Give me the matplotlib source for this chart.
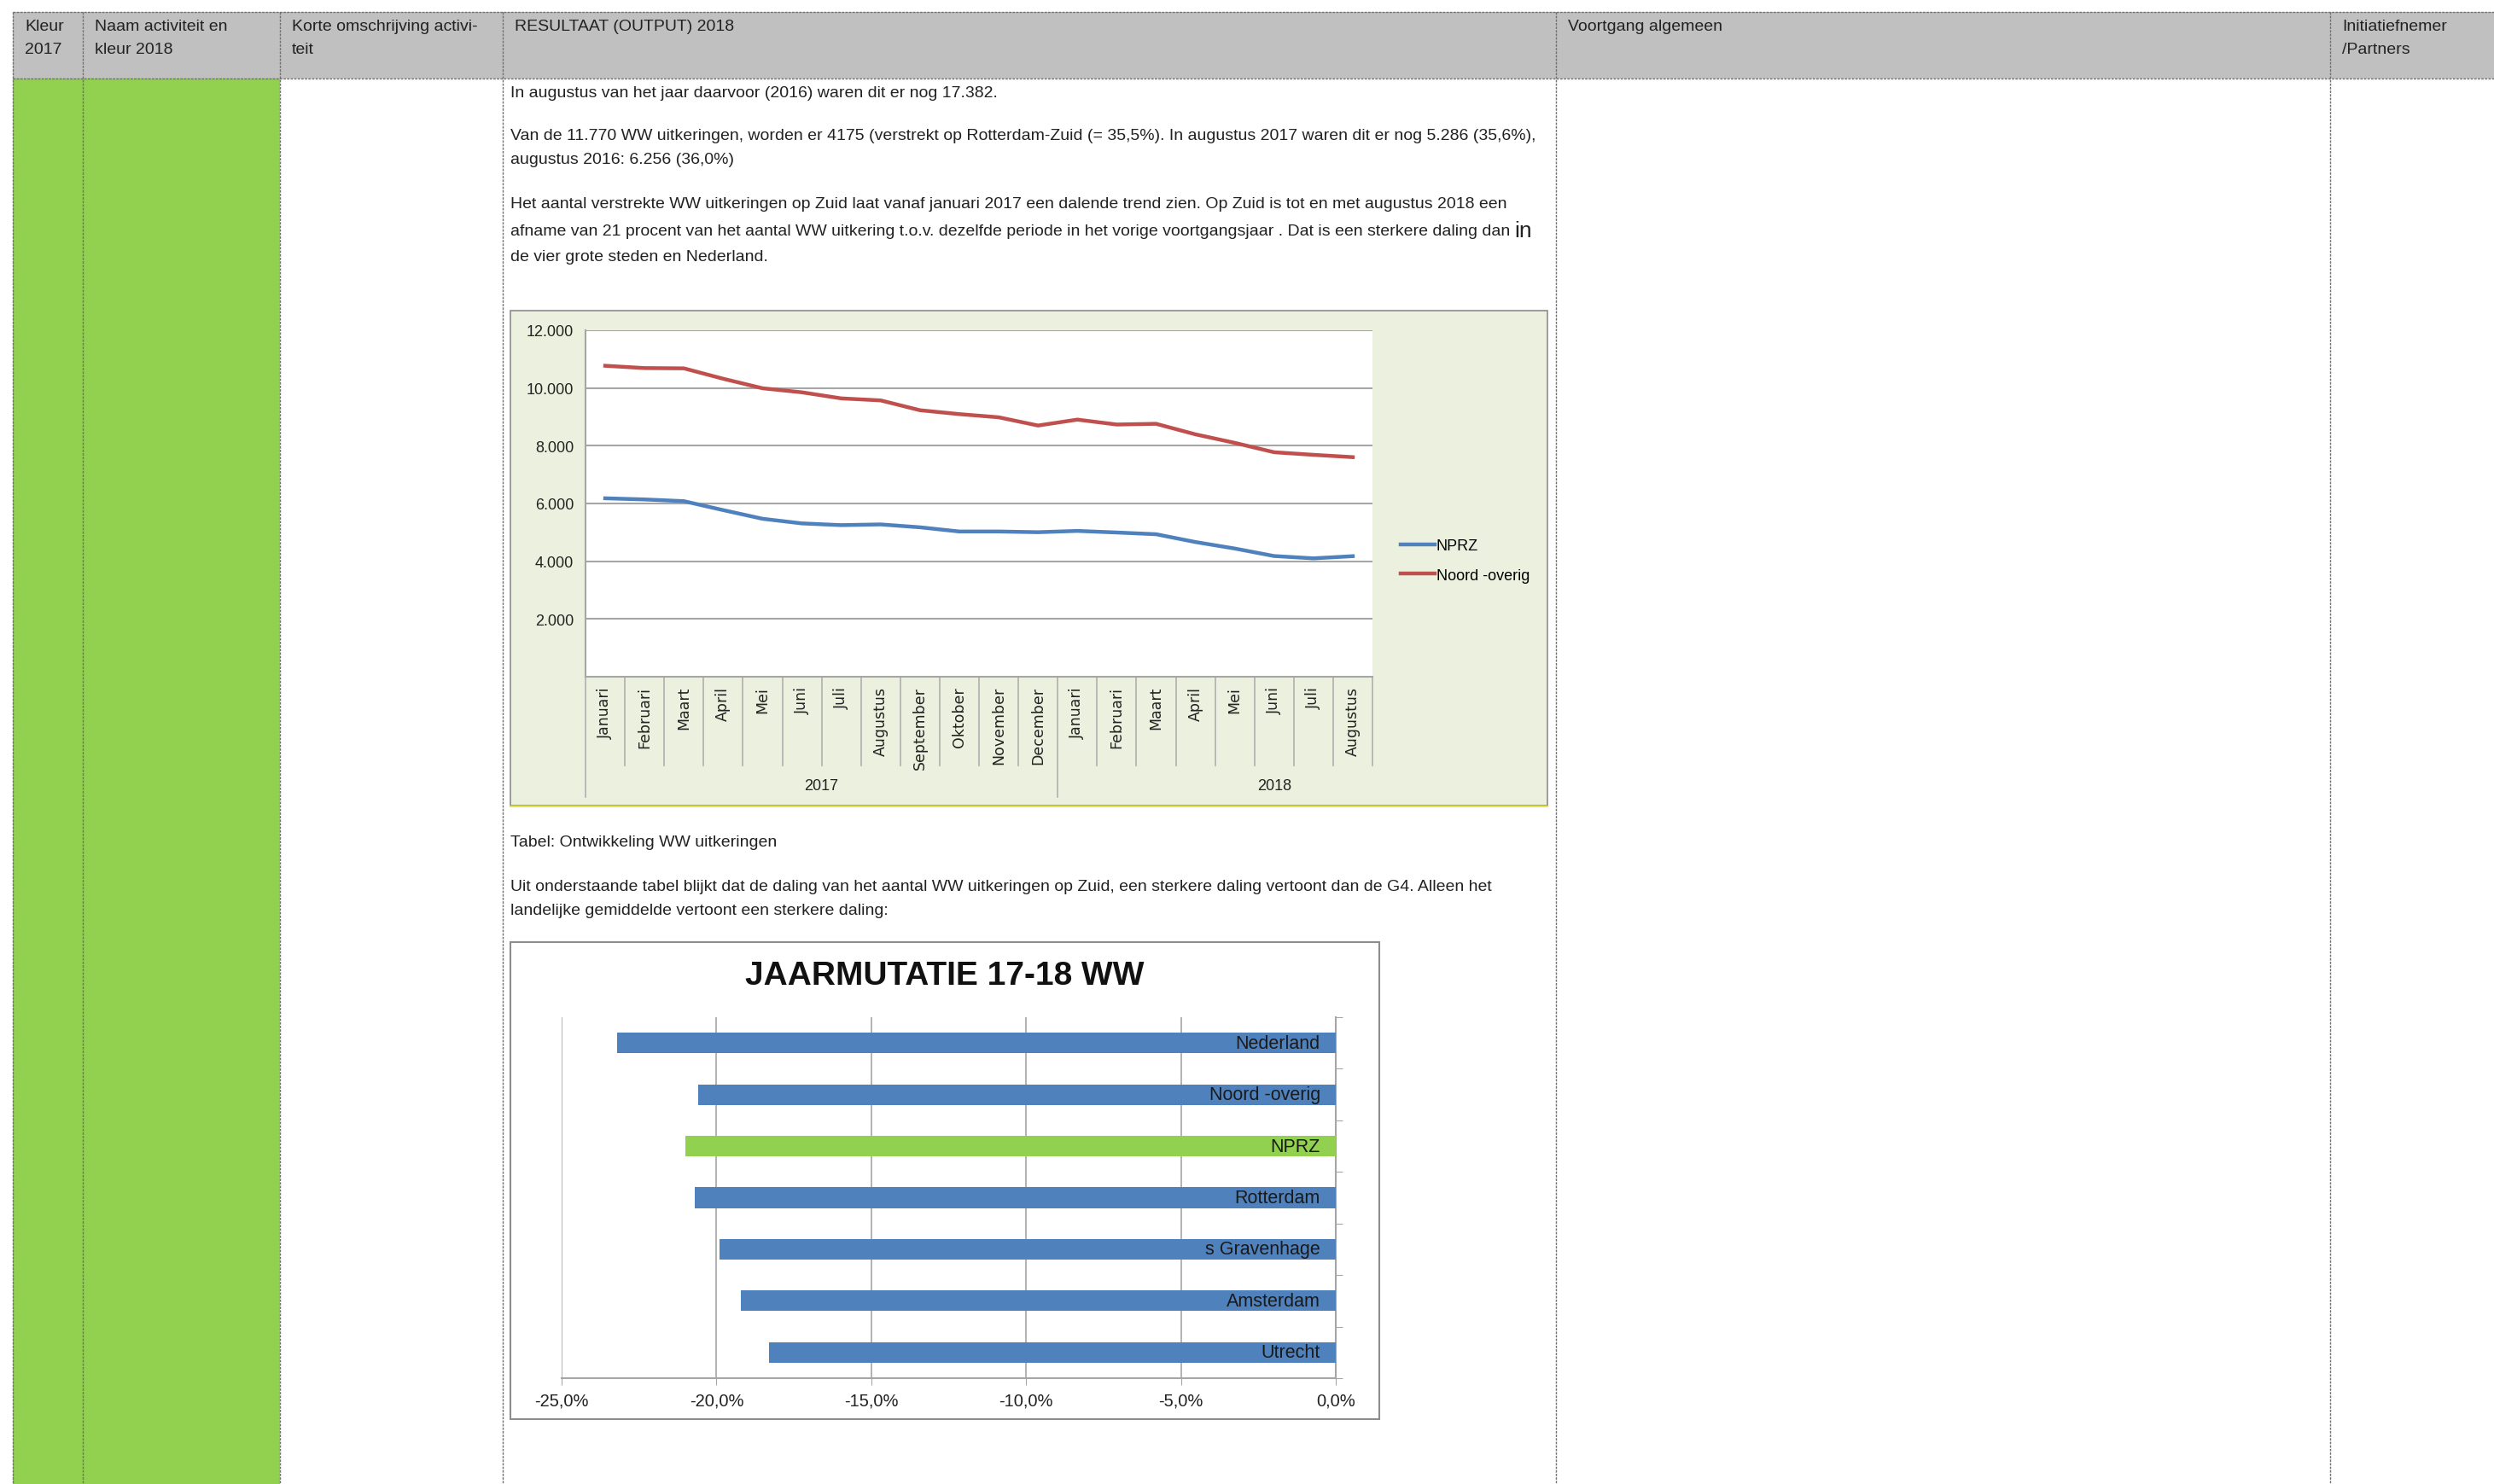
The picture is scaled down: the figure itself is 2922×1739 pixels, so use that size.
import numpy as np
import matplotlib.pyplot as plt
from matplotlib.patches import Rectangle

W, H = 2922, 1740

# tabelkop
headers = ['Kleur\n2017', 'Naam activiteit en\nkleur 2018', 'Korte omschrijving activi-\nteit',
           'RESULTAAT (OUTPUT) 2018', 'Voortgang algemeen', 'Initiatiefnemer\n/Partners']
col_x = [15, 97, 328, 589, 1823, 2730]

# lijngrafiek
months = ['Januari', 'Februari', 'Maart', 'April', 'Mei', 'Juni', 'Juli', 'Augustus',
          'September', 'Oktober', 'November', 'December',
          'Januari', 'Februari', 'Maart', 'April', 'Mei', 'Juni', 'Juli', 'Augustus']
years = ['2017', '2018']
nprz = [6180, 6140, 6080, 5770, 5470, 5310, 5250, 5275, 5175, 5030,
        5030, 5005, 5050, 4995, 4935, 4665, 4440, 4180, 4100, 4175]
noord = [10770, 10690, 10680, 10320, 9990, 9850, 9640, 9570, 9230, 9095,
         8985, 8700, 8905, 8735, 8760, 8395, 8100, 7775, 7685, 7605]

# staafgrafiek
regions = ['Nederland', 'Noord -overig', 'NPRZ', 'Rotterdam', 's Gravenhage', 'Amsterdam', 'Utrecht']
mutatie = [-23.2, -20.6, -21.0, -20.7, -19.9, -19.2, -18.3]

body = [
    (110, 'In augustus van het jaar daarvoor (2016) waren dit er nog 17.382.'),
    (160, 'Van de 11.770 WW uitkeringen, worden er 4175 (verstrekt op Rotterdam-Zuid (= 35,5%). '
          'In augustus 2017 waren dit er nog 5.286 (35,6%),'),
    (188, 'augustus 2016: 6.256 (36,0%)'),
    (240, 'Het aantal verstrekte WW uitkeringen op Zuid laat vanaf januari 2017 een dalende trend zien. '
          'Op Zuid is tot en met augustus 2018 een'),
    (272, 'afname van 21 procent van het aantal WW uitkering t.o.v. dezelfde periode in het vorige '
          'voortgangsjaar . Dat is een sterkere daling dan '),
    (302, 'de vier grote steden en Nederland.'),
    (988, 'Tabel: Ontwikkeling WW uitkeringen'),
    (1040, 'Uit onderstaande tabel blijkt dat de daling van het aantal WW uitkeringen op Zuid, '
           'een sterkere daling vertoont dan de G4. Alleen het'),
    (1068, 'landelijke gemiddelde vertoont een sterkere daling:'),
]

plt.rcParams['font.family'] = ['Liberation Sans', 'DejaVu Sans']
TXT = '#222222'

fig = plt.figure(figsize=(W / 100, H / 100), dpi=100)
bg = fig.add_axes([0, 0, 1, 1])
bg.set_xlim(0, W)
bg.set_ylim(H, 0)
bg.axis('off')

def fbox(x0, y0, x1, y1):
    return [x0 / W, 1 - y1 / H, (x1 - x0) / W, (y1 - y0) / H]

## tabel
bg.add_patch(Rectangle((15, 15), W - 15, 93 - 15, facecolor='#c0c0c0', edgecolor='none'))
bg.add_patch(Rectangle((15, 93), 328 - 15, H - 93, facecolor='#92d050', edgecolor='none'))
ls = (0, (2, 1))
bg.plot([15, W], [15, 15], color='#707070', lw=1, ls=ls)
bg.plot([15, W], [93, 93], color='#707070', lw=1, ls=ls)
for x in col_x:
    bg.plot([x, x], [15, H], color='#707070', lw=1, ls=ls)
for x, h in zip(col_x, headers):
    bg.text(x + 14, 23, h, fontsize=14, va='top', ha='left', color=TXT, linespacing=1.75)

r = fig.canvas.get_renderer()
for y, s in body:
    t = bg.text(598, y, s, fontsize=14, va='center', ha='left', color=TXT)
    if s.endswith('dan '):
        bb = t.get_window_extent(renderer=r)
        xe, _ = bg.transData.inverted().transform((bb.x1, bb.y0))
        bg.text(xe, y + 6, 'in', fontsize=19, va='baseline', ha='left', color=TXT)

## lijngrafiek
bg.add_patch(Rectangle((598, 365), 1813 - 598, 945 - 365, facecolor='#ebf1de',
                       edgecolor='#8c8c8c', lw=1.2))
bg.plot([598, 1813], [946, 946], color='#e6e24a', lw=1.5)

ax = fig.add_axes(fbox(686, 388, 1608, 794))
ax.set_facecolor('white')
x = np.arange(len(months))
ax.plot(x, nprz, color='#4f81bd', lw=3.2, label='NPRZ')
ax.plot(x, noord, color='#c0504d', lw=3.2, label='Noord -overig')
ax.set_xlim(-0.5, len(months) - 0.5)
ax.set_ylim(0, 12000)
yt = np.arange(2000, 12001, 2000)
ax.set_yticks(yt)
ax.set_yticklabels([f'{v:,}'.replace(',', '.') for v in yt], fontsize=13)
ax.grid(axis='y', color='#a6a6a6', lw=1.5)
ax.set_axisbelow(True)
ax.set_xticks(x)
ax.set_xticklabels(months, rotation=90, fontsize=12.5, family='DejaVu Sans', va='top')
ax.tick_params(axis='both', length=0, colors=TXT)
ax.tick_params(axis='x', pad=8)
ax.tick_params(axis='y', pad=10)
for s in ['top', 'right']:
    ax.spines[s].set_visible(False)
for s in ['left', 'bottom']:
    ax.spines[s].set_color('#a6a6a6')
    ax.spines[s].set_linewidth(1.5)
tr = ax.get_xaxis_transform()
for b in np.arange(-0.5, len(months), 1.0):
    low = -0.347 if b in (-0.5, 11.5) else -0.256
    ax.plot([b, b], [0, low], transform=tr, color='#b0b0b0', lw=1.2, clip_on=False)
ax.text(5.5, -0.313, years[0], transform=tr, ha='center', va='center', fontsize=13, color=TXT)
ax.text(17.0, -0.313, years[1], transform=tr, ha='center', va='center', fontsize=13, color=TXT)
ax.legend(loc='center left', bbox_to_anchor=(1641 / W, 1 - 658 / H), bbox_transform=fig.transFigure,
          frameon=False, fontsize=13, handlelength=2.2, handletextpad=0.1, labelspacing=0.95,
          borderpad=0, borderaxespad=0)

## staafgrafiek
bg.add_patch(Rectangle((598, 1105), 1616 - 598, 1664 - 1105, facecolor='white',
                       edgecolor='#8c8c8c', lw=1.5))
bg.text(1107, 1144, 'JAARMUTATIE 17-18 WW', fontsize=28, fontweight='bold', ha='center',
        va='center', color='#111111')

ax2 = fig.add_axes(fbox(658, 1193, 1565, 1616))
y = np.arange(len(regions))
colors = ['#92d050' if r_ == 'NPRZ' else '#4f81bd' for r_ in regions]
ax2.barh(y, mutatie, height=0.4, color=colors, zorder=3)
ax2.set_ylim(len(regions) - 0.5, -0.5)
ax2.set_xlim(-25, 0)
ticks = np.arange(-25, 1, 5)
ax2.set_xticks(ticks)
ax2.set_xticklabels([f'{v:.1f}%'.replace('.', ',') for v in ticks], fontsize=14.5, color=TXT)
ax2.grid(axis='x', color='#a6a6a6', lw=1.2)
ax2.yaxis.tick_right()
ax2.set_yticks(np.arange(-0.5, len(regions), 1.0))
ax2.set_yticklabels([])
ax2.tick_params(axis='y', length=6, color='#a6a6a6', direction='out')
ax2.tick_params(axis='x', length=6, color='#a6a6a6', pad=6)
for s in ['top', 'left']:
    ax2.spines[s].set_visible(False)
for s in ['bottom', 'right']:
    ax2.spines[s].set_color('#a6a6a6')
    ax2.spines[s].set_linewidth(1.5)
for yi, name in zip(y, regions):
    ax2.text(-0.5, yi, name, ha='right', va='center', fontsize=15.5, color='#1a1a1a', zorder=4)

fig.savefig('out.png', dpi=100)
